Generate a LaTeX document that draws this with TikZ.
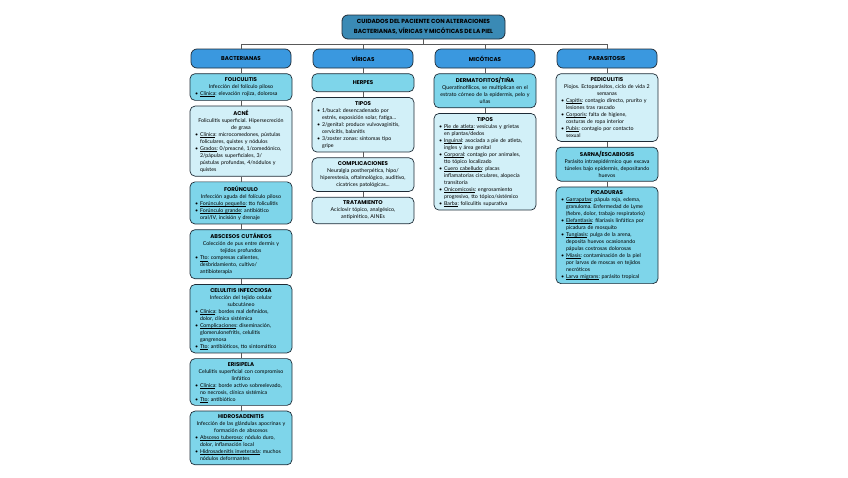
\documentclass[tikz,border=0pt]{standalone}
\usepackage{fontspec}
\setmainfont{Lato}
\newfontfamily\headfont{Poppins}
\usetikzlibrary{positioning}
\definecolor{titleblue}{HTML}{3A8AB5}
\definecolor{catblue}{HTML}{3A98DF}
\definecolor{cyanmid}{HTML}{7ED5EA}
\definecolor{cyanpale}{HTML}{D2F0F8}
\definecolor{edgecol}{HTML}{1E2B36}
\setlength{\parskip}{0pt}
\hyphenpenalty=10000
\exhyphenpenalty=10000
\frenchspacing
\newsavebox{\ulbox}
\newcommand{\ulin}[1]{\sbox{\ulbox}{#1}\rlap{\smash{\rule[-0.9pt]{\wd\ulbox}{0.35pt}}}\usebox{\ulbox}}
\newcommand{\hd}[1]{{\headfont\bfseries\fontsize{5.5}{7}\selectfont #1}}
\newcommand{\bitem}[2]{\par\hangindent=9.5pt\hangafter=1\noindent\makebox[9.5pt][l]{\hspace{4.5pt}\textbullet}\ulin{#1}: #2}
\newcommand{\pitem}[1]{\par\hangindent=9.5pt\hangafter=1\noindent\makebox[9.5pt][l]{\hspace{4.5pt}\textbullet}#1}
\newenvironment{blist}{\par\raggedright}{\par}
\begin{document}
\begin{tikzpicture}[x=1pt, y=1pt,
					node distance=5pt,
					box/.style = {draw=edgecol, line width=0.7pt, rounded corners=5pt, text width=101pt, inner xsep=0.5pt, inner ysep=3.9pt, align=center, font=\fontsize{5.3}{7}\selectfont},
					midbox/.style = {box, fill=cyanmid},
					palebox/.style = {box, fill=cyanpale},
					catbox/.style = {draw=edgecol, line width=0.7pt, rounded corners=6pt, fill=catblue, minimum width=100pt, minimum height=19pt, font=\headfont\bfseries\fontsize{5.6}{6}\selectfont},
					link/.style = {draw=black!65, line width=0.5pt}
				]
				\useasboundingbox (0,0) rectangle (848,-477);
				\def\colgap{122}
				\node[draw=edgecol, line width=0.8pt, rounded corners=6pt, fill=titleblue, minimum width=163pt, minimum height=24pt, align=center, font=\headfont\bfseries\fontsize{5.9}{9.5}\selectfont] (title) at (423.5,-27) {CUIDADOS DEL PACIENTE CON ALTERACIONES\\BACTERIANAS, VÍRICAS Y MICÓTICAS DE LA PIEL};
				\node[catbox] (bact) at (241,-58.5) {BACTERIANAS};
				\node[catbox] (vir) at (241+\colgap,-58.5) {VÍRICAS};
				\node[catbox] (mic) at (241+2*\colgap,-58.5) {MICÓTICAS};
				\node[catbox] (par) at (241+3*\colgap,-58.5) {PARASITOSIS};
				\draw[link] (title.south) -- ++(0,-4.5) coordinate (bus);
				\foreach \c in {bact,vir,mic,par}
					\draw[link] (bus) -| (\c.north);

				\node[midbox, below=of bact] (folic) {\hd{FOLICULITIS}\\Infección del folículo piloso
					\begin{blist}\bitem{Clínica}{elevación rojiza, dolorosa}\end{blist}};
				\node[palebox, below=of folic] (acne) {\hd{ACNÉ}\\Foliculitis superficial. Hipersecreción\\de grasa
					\begin{blist}\bitem{Clínica}{microcomedones, pústulas\newline foliculares, quistes y nódulos}\bitem{Grados}{0/preacné, 1/comedónico,\newline 2/pápulas superficiales, 3/\newline pústulas profundas, 4/nódulos y\newline quistes}\end{blist}};
				\node[midbox, below=of acne] (forun) {\hd{FORÚNCULO}\\Infección aguda del folículo piloso
					\begin{blist}\bitem{Forúnculo pequeño}{tto foliculitis}\bitem{Forúnculo grande}{antibiótico\newline oral/IV, incisión y drenaje}\end{blist}};
				\node[midbox, below=of forun] (absc) {\hd{ABSCESOS CUTÁNEOS}\\Colección de pus entre dermis y\\tejidos profundos
					\begin{blist}\bitem{Tto}{compresas calientes,\newline desbridamiento, cultivo/\newline antibioterapia}\end{blist}};
				\node[midbox, below=of absc] (celul) {\hd{CELULITIS INFECCIOSA}\\Infección del tejido celular\\subcutáneo
					\begin{blist}\bitem{Clínica}{bordes mal definidos,\newline dolor, clínica sistémica}\bitem{Complicaciones}{diseminación,\newline glomerulonefritis, celulitis\newline gangrenosa}\bitem{Tto}{antibióticos, tto sintomático}\end{blist}};
				\node[midbox, below=of celul] (erisi) {\hd{ERISIPELA}\\Celulitis superficial con compromiso\\linfático
					\begin{blist}\bitem{Clínica}{borde activo sobreelevado,\newline no necrosis, clínica sistémica}\bitem{Tto}{antibiótico}\end{blist}};
				\node[midbox, below=of erisi] (hidro) {\hd{HIDROSADENITIS}\\Infección de las glándulas apocrinas y\\formación de abscesos
					\begin{blist}\bitem{Absceso tuberoso}{nódulo duro,\newline dolor, inflamación local}\bitem{Hidrosadenitis inveterada}{muchos\newline nódulos deformantes}\end{blist}};

				\node[midbox, below=of vir, minimum height=18pt] (herpes) {\hd{HERPES}};
				\node[palebox, below=of herpes] (vtipos) {\hd{TIPOS}
					\begin{blist}\pitem{1/bucal: desencadenado por\newline estrés, exposición solar, fatiga...}\pitem{2/genital: produce vulvovaginitis,\newline cervicitis, balanitis}\pitem{3/zoster zonas: síntomas tipo\newline gripe}\end{blist}};
				\node[palebox, below=of vtipos] (vcompl) {\hd{COMPLICACIONES}\\Neuralgia postherpética, hipo/\\hiperestesia, oftalmológico, auditivo,\\cicatrices patológicas...};
				\node[palebox, below=of vcompl] (vtrat) {\hd{TRATAMIENTO}\\Aciclovir tópico, analgésico,\\antipirético, AINEs};

				\node[midbox, below=of mic] (derma) {\hd{DERMATOFITOS/TIÑA}\\Queratinofílicos, se multiplican en el\\estrato córneo de la epidermis, pelo y\\uñas};
				\node[palebox, below=of derma] (mtipos) {\hd{TIPOS}
					\begin{blist}\bitem{Pie de atleta}{vesículas y grietas\newline en plantas/dedos}\bitem{Inguinal}{asociada a pie de atleta,\newline ingles y área genital}\bitem{Corporal}{contagio por animales,\newline tto tópico localizado}\bitem{Cuero cabelludo}{placas\newline inflamatorias circulares, alopecia\newline transitoria}\bitem{Onicomicosis}{engrosamiento\newline progresivo, tto tópico/sistémico}\bitem{Barba}{foliculitis supurativa}\end{blist}};

				\node[palebox, below=of par] (pedic) {\hd{PEDICULITIS}\\Piojos. Ectoparásitos, ciclo de vida 2\\semanas
					\begin{blist}\bitem{Capitis}{contagio directo, prurito y\newline lesiones tras rascado}\bitem{Corporis}{falta de higiene,\newline costuras de ropa interior}\bitem{Pubis}{contagio por contacto\newline sexual}\end{blist}};
				\node[midbox, below=of pedic] (sarna) {\hd{SARNA/ESCABIOSIS}\\Parásito intraepidérmico que excava\\túneles bajo epidermis, depositando\\huevos};
				\node[midbox, below=of sarna] (picad) {\hd{PICADURAS}
					\begin{blist}\bitem{Garrapatas}{pápula roja, edema,\newline granuloma. Enfermedad de Lyme\newline (fiebre, dolor, trabajo respiratorio)}\bitem{Elefantiasis}{filariasis linfática por\newline picadura de mosquito}\bitem{Tungiasis}{pulga de la arena,\newline deposita huevos ocasionando\newline pápulas costrosas dolorosas}\bitem{Miasis}{contaminación de la piel\newline por larvas de moscas en tejidos\newline necróticos}\bitem{Larva migrans}{parásito tropical}\end{blist}};

				\foreach \a/\b in {bact/folic, folic/acne, acne/forun, forun/absc, absc/celul, celul/erisi, erisi/hidro, vir/herpes, herpes/vtipos, vtipos/vcompl, vcompl/vtrat, mic/derma, derma/mtipos, par/pedic, pedic/sarna, sarna/picad}
					\draw[link] (\a.south) -- (\b.north);
			\end{tikzpicture}
\end{document}
